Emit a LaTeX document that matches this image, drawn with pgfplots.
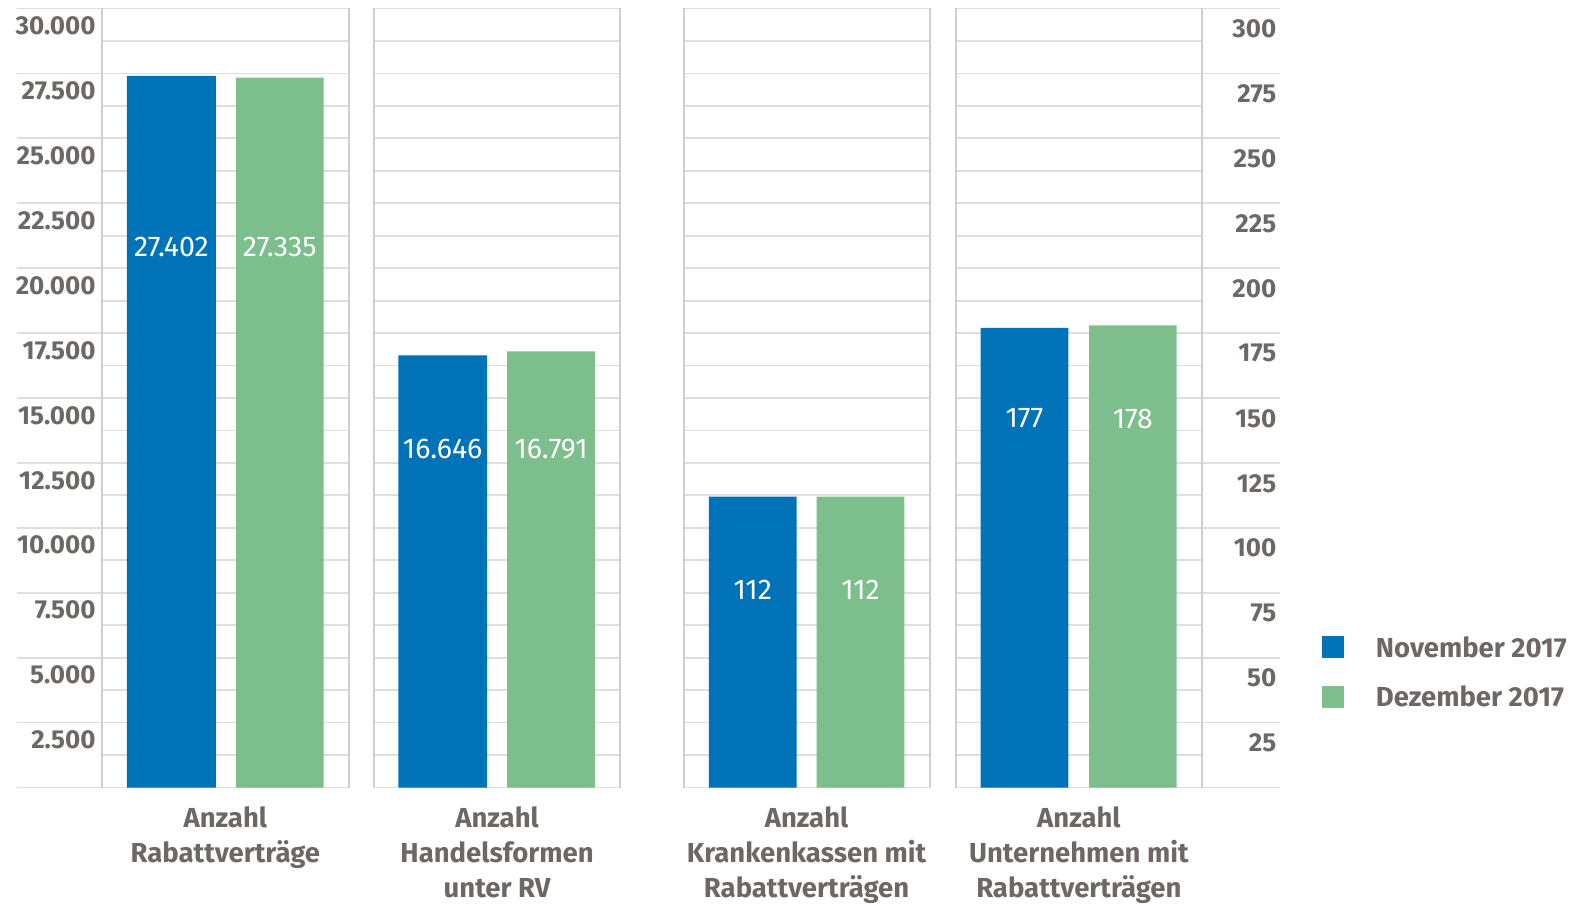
\documentclass[border=0pt]{standalone}
\usepackage{fontspec}
\setmainfont{Fira Sans}
\usepackage{pgfplots}
\pgfplotsset{compat=1.18}
\definecolor{nblue}{HTML}{0072B7}
\definecolor{dgreen}{HTML}{7DBE8D}
\definecolor{tgray}{HTML}{6E6865}
\definecolor{hgrid}{HTML}{DEDEDE}
\definecolor{vgrid}{HTML}{CFCFCF}
\begin{document}
\begin{tikzpicture}
\path[use as bounding box] (0,0) rectangle (1581pt,903pt);
\begin{axis}[
  at={(101.8pt,115.5pt)}, anchor=south west,
  width=1100.1pt, height=779pt, scale only axis,
  xmin=101.8, xmax=1201.9, ymin=0, ymax=30000,
  clip=false,
  axis line style={draw=none},
  major tick length=0pt,
  xtick={225.35,497.1,806.6,1078.9},
  xticklabels={{Anzahl\\Rabattverträge},{Anzahl\\Handelsformen\\unter RV},{Anzahl\\Krankenkassen mit\\Rabattverträgen},{Anzahl\\Unternehmen mit\\Rabattverträgen}},
  xticklabel style={align=center, font=\bfseries\fontsize{27.5}{35}\selectfont, text=tgray, inner sep=0pt, anchor=north, yshift=-19pt},
  ytick={2500,5000,7500,10000,12500,15000,17500,20000,22500,25000,27500,30000},
  scaled y ticks=false,
  yticklabel style={anchor=north east, inner sep=0pt, xshift=-6pt, yshift=-8pt, font=\bfseries\fontsize{26}{30}\selectfont, text=tgray},
  /pgf/number format/.cd, fixed, 1000 sep={.}, assume math mode=true,
  /pgfplots/.cd,
  legend image code/.code={\draw[#1,draw=none] (0pt,-11pt) rectangle (22pt,11pt);},
  legend style={at={(1.1089,0.1945)}, anchor=north west, draw=none, fill=none, inner sep=0pt,
    font=\bfseries\fontsize{27.5}{30}\selectfont, text=tgray, row sep=27pt,
    nodes={inner sep=0pt, anchor=west}, /tikz/every odd column/.append style={column sep=32pt}},
  legend cell align=left,
]
% grid
\pgfplotsinvokeforeach{0,1250,2500,3750,5000,6250,7500,8750,10000,11250,12500,13750,15000,16250,17500,18750,20000,21250,22500,23750,25000,26250,27500,28750,30000}{
  \draw[hgrid, line width=1.8pt] (axis cs:101.8,#1) -- (axis cs:348.9,#1);
  \draw[hgrid, line width=1.8pt] (axis cs:374.1,#1) -- (axis cs:620.1,#1);
  \draw[hgrid, line width=1.8pt] (axis cs:683.6,#1) -- (axis cs:929.6,#1);
  \draw[hgrid, line width=1.8pt] (axis cs:955.9,#1) -- (axis cs:1201.9,#1);
}
\pgfplotsinvokeforeach{0,2500,5000,7500,10000,12500,15000,17500,20000,22500,25000,27500,30000}{
  \draw[hgrid, line width=1.8pt] (axis cs:17,#1) -- (axis cs:101.8,#1);
  \draw[hgrid, line width=1.8pt] (axis cs:1201.9,#1) -- (axis cs:1280,#1);
}
\pgfplotsinvokeforeach{101.8,348.9,374.1,620.1,683.6,929.6,955.9,1201.9}{
  \draw[vgrid, line width=1.8pt] (axis cs:#1,0) -- (axis cs:#1,30000);
}
\addplot[ybar, bar shift=0pt, bar width=88.8pt, fill=nblue, draw=none] coordinates {(171.4,27402) (442.65,16646)};
\addlegendentry{November 2017}
\addplot[ybar, bar shift=0pt, bar width=87.7pt, fill=dgreen, draw=none] coordinates {(279.85,27335) (551.05,16791)};
\addlegendentry{Dezember 2017}
\begin{scope}[every node/.style={text=white, font=\fontsize{28.5}{30}\selectfont, inner sep=0pt}]
\node at (axis cs:171.4,20815) {27.402};
\node at (axis cs:279.85,20815) {27.335};
\node at (axis cs:442.65,13047) {16.646};
\node at (axis cs:551.05,13047) {16.791};
\end{scope}
\end{axis}
\begin{axis}[
  at={(101.8pt,115.5pt)}, anchor=south west,
  width=1100.1pt, height=779pt, scale only axis,
  xmin=101.8, xmax=1201.9, ymin=0, ymax=300,
  clip=false,
  axis line style={draw=none},
  major tick length=0pt,
  xtick=\empty,
  yticklabel pos=right,
  ytick={25,50,75,100,125,150,175,200,225,250,275,300},
  yticklabel style={anchor=north east, inner sep=0pt, xshift=74.6pt, yshift=-11pt, font=\bfseries\fontsize{26}{30}\selectfont, text=tgray},
  /pgf/number format/assume math mode=true,
]
\addplot[ybar, bar shift=0pt, bar width=87.8pt, fill=nblue, draw=none] coordinates {(752.7,112) (1024.4,177)};
\addplot[ybar, bar shift=0pt, bar width=87.7pt, fill=dgreen, draw=none] coordinates {(860.55,112) (1132.85,178)};
\begin{scope}[every node/.style={text=white, font=\fontsize{28.5}{30}\selectfont, inner sep=0pt}]
\node at (axis cs:752.7,76.1) {112};
\node at (axis cs:860.55,76.1) {112};
\node at (axis cs:1024.4,142.1) {177};
\node at (axis cs:1132.85,142.1) {178};
\end{scope}
\end{axis}
\end{tikzpicture}
\end{document}
